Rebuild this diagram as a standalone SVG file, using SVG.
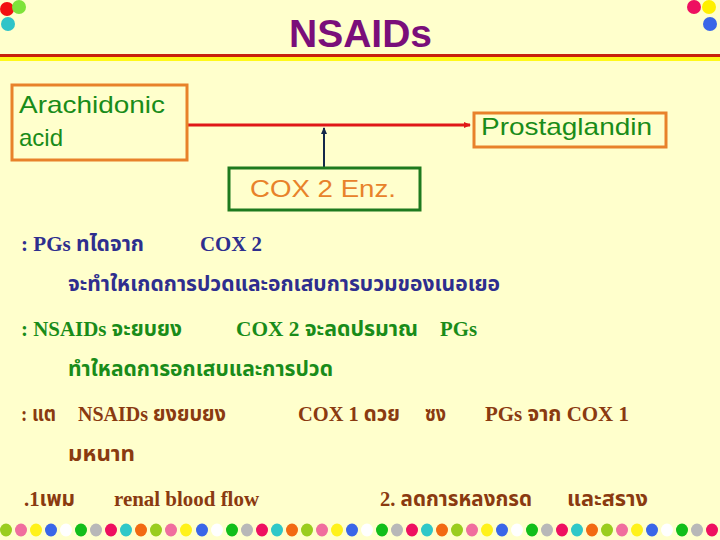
<svg xmlns="http://www.w3.org/2000/svg" width="720" height="540" viewBox="0 0 720 540">
<defs>
<style>
.bg{fill:#FFFFCC}
.box-o{fill:none;stroke:#E8822A;stroke-width:3}
.box-g{fill:none;stroke:#1E7A1E;stroke-width:3}
.lbl{font-family:"Liberation Sans",Arial,sans-serif;font-size:24px}
.th{font-family:"Liberation Serif","Noto Sans Thai","Noto Serif Thai","Loma","Garuda",serif;font-size:22px;font-weight:bold}
.c1{fill:#2E2E8E}
.c2{fill:#198C19}
.c3{fill:#8A3A10}
</style>
<marker id="arrR" markerWidth="8" markerHeight="8" refX="6" refY="4" orient="auto" markerUnits="userSpaceOnUse">
<path d="M0,1 L7,4 L0,7 Z" fill="#E01818"/>
</marker>
<marker id="arrU" markerWidth="8" markerHeight="8" refX="6" refY="4" orient="auto" markerUnits="userSpaceOnUse">
<path d="M0,1 L7,4 L0,7 Z" fill="#14284A"/>
</marker>
</defs>
<rect class="bg" x="0" y="0" width="720" height="540"/>
<g id="top-deco">
<circle cx="7" cy="9" r="7" fill="#F21010"/>
<circle cx="19" cy="7" r="7" fill="#7EE33A"/>
<circle cx="8" cy="24" r="7" fill="#2FC4C8"/>
<circle cx="694" cy="7" r="7" fill="#EE1060"/>
<circle cx="709" cy="7" r="7" fill="#FFF000"/>
<circle cx="710" cy="24" r="7" fill="#3A66E8"/>
<rect x="0" y="54" width="720" height="3" fill="#C8200E"/>
<rect x="0" y="57" width="720" height="4" fill="#FFF81A"/>
</g>
<text x="289" y="47" textLength="143" lengthAdjust="spacingAndGlyphs" style="font-family:'Liberation Sans',Arial,sans-serif;font-size:38px;font-weight:bold;fill:#7A0E7A">NSAIDs</text>
<g id="connectors">
<line x1="188" y1="125" x2="470" y2="125" stroke="#E01818" stroke-width="3" marker-end="url(#arrR)"/>
<line x1="324" y1="168" x2="324" y2="128" stroke="#14284A" stroke-width="2" marker-end="url(#arrU)"/>
</g>
<g id="node-arachidonic">
<rect class="box-o" x="12" y="85" width="175" height="75"/>
<text class="lbl c2" x="19" y="113" textLength="146" lengthAdjust="spacingAndGlyphs">Arachidonic</text>
<text class="lbl c2" x="19" y="146">acid</text>
</g>
<g id="node-prostaglandin">
<rect class="box-o" x="474" y="113" width="192" height="34"/>
<text class="lbl c2" x="481" y="135" textLength="171" lengthAdjust="spacingAndGlyphs">Prostaglandin</text>
</g>
<g id="node-cox2">
<rect class="box-g" x="229" y="168" width="191" height="42"/>
<text class="lbl" x="250" y="197" fill="#E8822A" textLength="146" lengthAdjust="spacingAndGlyphs">COX 2 Enz.</text>
</g>
<g id="text-body">
<text class="th c1" x="21" y="251" textLength="123" lengthAdjust="spacingAndGlyphs">: PGs ทไดจาก</text>
<text class="th c1" x="200" y="251" textLength="62" lengthAdjust="spacingAndGlyphs">COX 2</text>
<text class="th c1" x="68" y="291" textLength="432" lengthAdjust="spacingAndGlyphs">จะทำใหเกดการปวดและอกเสบการบวมของเนอเยอ</text>
<text class="th c2" x="21" y="336" textLength="161" lengthAdjust="spacingAndGlyphs">: NSAIDs จะยบยง</text>
<text class="th c2" x="236" y="336" textLength="182" lengthAdjust="spacingAndGlyphs">COX 2 จะลดปรมาณ</text>
<text class="th c2" x="440" y="336" textLength="37" lengthAdjust="spacingAndGlyphs">PGs</text>
<text class="th c2" x="68" y="376" textLength="265" lengthAdjust="spacingAndGlyphs">ทำใหลดการอกเสบและการปวด</text>
<text class="th c3" x="21" y="421" textLength="35" lengthAdjust="spacingAndGlyphs">: แต</text>
<text class="th c3" x="78" y="421" textLength="148" lengthAdjust="spacingAndGlyphs">NSAIDs ยงยบยง</text>
<text class="th c3" x="298" y="421" textLength="102" lengthAdjust="spacingAndGlyphs">COX 1 ดวย</text>
<text class="th c3" x="425" y="421" textLength="21" lengthAdjust="spacingAndGlyphs">ซง</text>
<text class="th c3" x="485" y="421" textLength="144" lengthAdjust="spacingAndGlyphs">PGs จาก COX 1</text>
<text class="th c3" x="68" y="461" textLength="67" lengthAdjust="spacingAndGlyphs">มหนาท</text>
<text class="th c3" x="24" y="506" textLength="51" lengthAdjust="spacingAndGlyphs">.1เพม</text>
<text class="th c3" x="114" y="506" textLength="145" lengthAdjust="spacingAndGlyphs">renal blood flow</text>
<text class="th c3" x="380" y="506" textLength="152" lengthAdjust="spacingAndGlyphs">2. ลดการหลงกรด</text>
<text class="th c3" x="567" y="506" textLength="81" lengthAdjust="spacingAndGlyphs">และสราง</text>
</g>
<g id="bottom-dots">
<ellipse cx="6" cy="530" rx="6" ry="6.5" fill="#9ACD1E"/>
<ellipse cx="21" cy="530" rx="6" ry="6.5" fill="#F06E9E"/>
<ellipse cx="36" cy="530" rx="6" ry="6.5" fill="#FFF21A"/>
<ellipse cx="51" cy="530" rx="6" ry="6.5" fill="#3A66E8"/>
<ellipse cx="66" cy="530" rx="6" ry="6.5" fill="#FFFFFF"/>
<ellipse cx="81" cy="530" rx="6" ry="6.5" fill="#12BE1A"/>
<ellipse cx="96" cy="530" rx="6" ry="6.5" fill="#B8B8B8"/>
<ellipse cx="111" cy="530" rx="6" ry="6.5" fill="#EE1060"/>
<ellipse cx="126" cy="530" rx="6" ry="6.5" fill="#2FC8C8"/>
<ellipse cx="141" cy="530" rx="6" ry="6.5" fill="#F26A12"/>
<ellipse cx="156" cy="530" rx="6" ry="6.5" fill="#9ACD1E"/>
<ellipse cx="171" cy="530" rx="6" ry="6.5" fill="#F06E9E"/>
<ellipse cx="186" cy="530" rx="6" ry="6.5" fill="#FFF21A"/>
<ellipse cx="202" cy="530" rx="6" ry="6.5" fill="#3A66E8"/>
<ellipse cx="217" cy="530" rx="6" ry="6.5" fill="#FFFFFF"/>
<ellipse cx="232" cy="530" rx="6" ry="6.5" fill="#12BE1A"/>
<ellipse cx="247" cy="530" rx="6" ry="6.5" fill="#B8B8B8"/>
<ellipse cx="262" cy="530" rx="6" ry="6.5" fill="#EE1060"/>
<ellipse cx="277" cy="530" rx="6" ry="6.5" fill="#2FC8C8"/>
<ellipse cx="292" cy="530" rx="6" ry="6.5" fill="#F26A12"/>
<ellipse cx="307" cy="530" rx="6" ry="6.5" fill="#9ACD1E"/>
<ellipse cx="322" cy="530" rx="6" ry="6.5" fill="#F06E9E"/>
<ellipse cx="337" cy="530" rx="6" ry="6.5" fill="#FFF21A"/>
<ellipse cx="352" cy="530" rx="6" ry="6.5" fill="#3A66E8"/>
<ellipse cx="367" cy="530" rx="6" ry="6.5" fill="#FFFFFF"/>
<ellipse cx="382" cy="530" rx="6" ry="6.5" fill="#12BE1A"/>
<ellipse cx="397" cy="530" rx="6" ry="6.5" fill="#B8B8B8"/>
<ellipse cx="412" cy="530" rx="6" ry="6.5" fill="#EE1060"/>
<ellipse cx="427" cy="530" rx="6" ry="6.5" fill="#2FC8C8"/>
<ellipse cx="442" cy="530" rx="6" ry="6.5" fill="#F26A12"/>
<ellipse cx="457" cy="530" rx="6" ry="6.5" fill="#9ACD1E"/>
<ellipse cx="472" cy="530" rx="6" ry="6.5" fill="#F06E9E"/>
<ellipse cx="487" cy="530" rx="6" ry="6.5" fill="#FFF21A"/>
<ellipse cx="502" cy="530" rx="6" ry="6.5" fill="#3A66E8"/>
<ellipse cx="517" cy="530" rx="6" ry="6.5" fill="#FFFFFF"/>
<ellipse cx="532" cy="530" rx="6" ry="6.5" fill="#12BE1A"/>
<ellipse cx="547" cy="530" rx="6" ry="6.5" fill="#B8B8B8"/>
<ellipse cx="562" cy="530" rx="6" ry="6.5" fill="#EE1060"/>
<ellipse cx="577" cy="530" rx="6" ry="6.5" fill="#2FC8C8"/>
<ellipse cx="592" cy="530" rx="6" ry="6.5" fill="#F26A12"/>
<ellipse cx="607" cy="530" rx="6" ry="6.5" fill="#9ACD1E"/>
<ellipse cx="622" cy="530" rx="6" ry="6.5" fill="#F06E9E"/>
<ellipse cx="637" cy="530" rx="6" ry="6.5" fill="#FFF21A"/>
<ellipse cx="652" cy="530" rx="6" ry="6.5" fill="#3A66E8"/>
<ellipse cx="667" cy="530" rx="6" ry="6.5" fill="#FFFFFF"/>
<ellipse cx="682" cy="530" rx="6" ry="6.5" fill="#12BE1A"/>
<ellipse cx="697" cy="530" rx="6" ry="6.5" fill="#B8B8B8"/>
<ellipse cx="712" cy="530" rx="6" ry="6.5" fill="#EE1060"/>
</g>
</svg>
